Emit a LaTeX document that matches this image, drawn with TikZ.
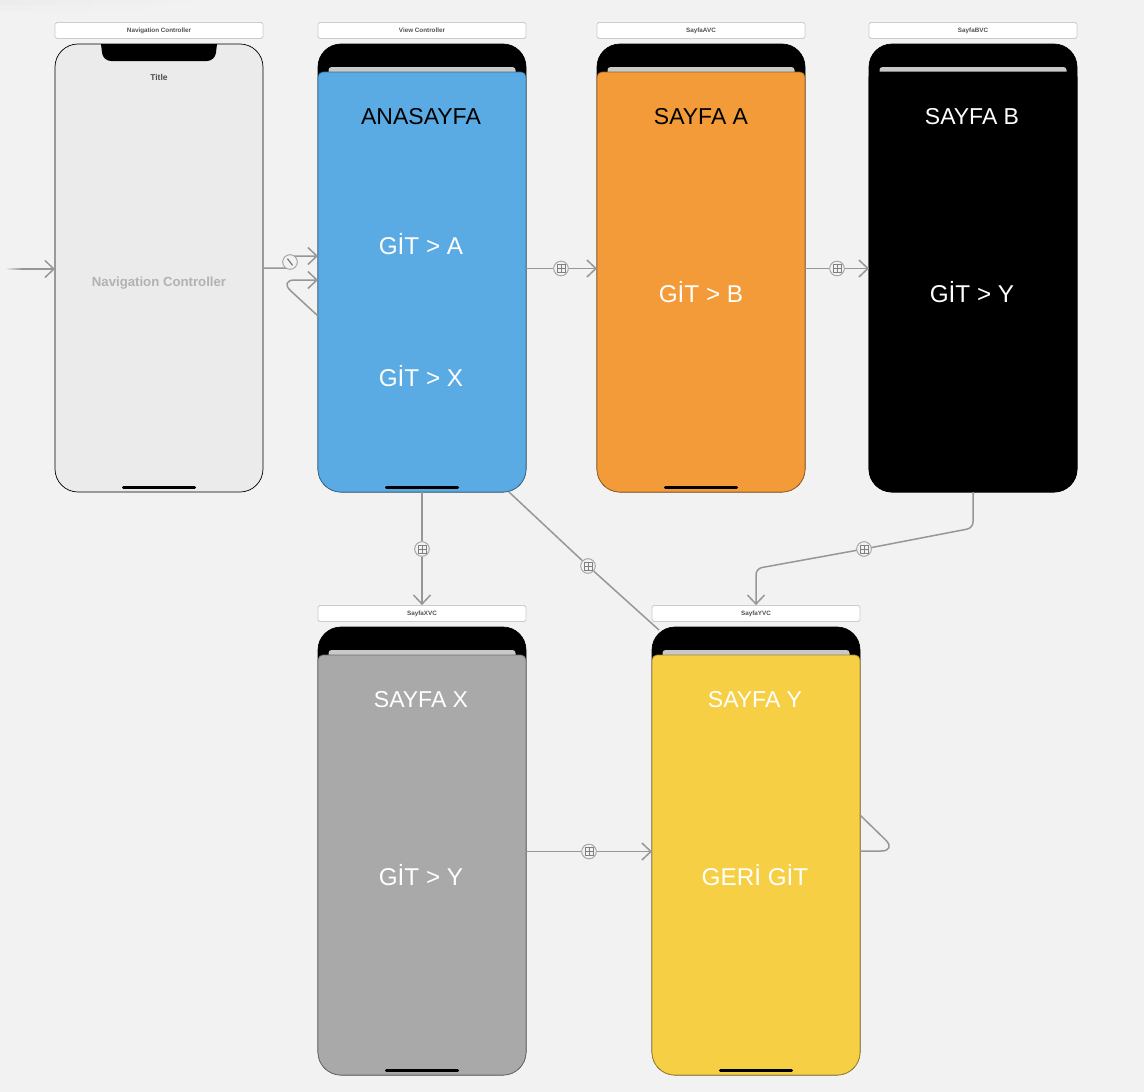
\documentclass[tikz,border=0pt]{standalone}
\usepackage{fontspec}
\setmainfont{Liberation Sans}
\usetikzlibrary{arrows.meta,calc,fadings}
\definecolor{canvas}{HTML}{F2F2F2}
\definecolor{linegray}{HTML}{979797}
\definecolor{badgegray}{HTML}{A6A6A6}
\definecolor{navfill}{HTML}{EBEBEB}
\definecolor{blueS}{HTML}{5AABE3}
\definecolor{orangeS}{HTML}{F39B38}
\definecolor{grayS}{HTML}{A9A9A9}
\definecolor{yellowS}{HTML}{F7CF45}
\tikzset{
  phonebody/.style={rectangle,draw=black,line width=0.7pt,rounded corners=23pt,minimum width=208pt,minimum height=448pt,inner sep=0pt,outer sep=0pt},
  header/.style={rectangle,draw=black!20,fill=white,line width=0.8pt,rounded corners=1.8pt,minimum width=208pt,minimum height=16pt,inner sep=0pt,font=\fontsize{6.3}{7}\selectfont\bfseries,text=black!68},
  titletext/.style={font=\fontsize{23}{28}\selectfont,inner sep=0pt},
  bigtext/.style={font=\fontsize{24.3}{28}\selectfont,inner sep=0pt},
  conn/.style={draw=linegray,line width=1.5pt,rounded corners=6pt,line join=round},
  arrowed/.style={conn,-{Straight Barb[length=9pt,width=17pt,line width=1.5pt]}},
  badge/.style={circle,draw=badgegray,fill=canvas,line width=0.8pt,minimum size=14.5pt,inner sep=0pt,
    path picture={
      \draw[draw=black!50,line width=0.55pt] ($(path picture bounding box.center)+(-4,-4)$) rectangle ($(path picture bounding box.center)+(4,4)$);
      \draw[draw=black!50,line width=0.55pt] ($(path picture bounding box.center)+(0,-4)$) -- ($(path picture bounding box.center)+(0,4)$) ($(path picture bounding box.center)+(-4,0)$) -- ($(path picture bounding box.center)+(4,0)$);
    }},
  linkbadge/.style={circle,draw=badgegray,fill=canvas,line width=0.8pt,minimum size=14.5pt,inner sep=0pt,
    path picture={
      \draw[draw=black!55,line width=1.1pt] ($(path picture bounding box.center)+(-2.6,-3.4)$) -- ($(path picture bounding box.center)+(2.6,3.4)$);
    }},
  homebar/.style={rectangle,fill=black,rounded corners=1.2pt,minimum width=74pt,minimum height=2.6pt,inner sep=0pt}
}
% name, center x, center y, screen colour
\newcommand{\phonescreen}[4]{%
  \node[phonebody,fill=black] (#1) at (#2,#3) {};
  \fill[black!21,rounded corners=3pt] ($(#1.north west)+(10.5,32)$) -- ($(#1.north west)+(10.5,23)$) -- ($(#1.north east)+(-10.5,23)$) -- ($(#1.north east)+(-10.5,32)$) -- cycle;
  \filldraw[fill=#4,draw=#4!65!black,line width=0.7pt] (#1.west) [rounded corners=5pt] -- ($(#1.north west)+(0,28)$) -- ($(#1.north east)+(0,28)$) -- (#1.east) [rounded corners=23pt] -- (#1.south east) -- (#1.south west) -- (#1.west) [sharp corners] -- cycle;
  \node[homebar] (#1home) at ($(#1.south)+(0,-4.5)$) {};
}
\begin{document}
\begin{tikzpicture}[x=1pt,y=-1pt]
\useasboundingbox[fill=canvas] (0,0) rectangle (1144,1092);
\fill[black,opacity=0.025,path fading=east] (0,0) rectangle (215,5);
\fill[black,opacity=0.012,path fading=east] (0,5) rectangle (180,11);

% headers
\node[header] (hnav) at (159,30.5) {Navigation Controller};
\node[header] (hvc) at (422,30.5) {View Controller};
\node[header] (ha) at (701,30.5) {SayfaAVC};
\node[header] (hb) at (973,30.5) {SayfaBVC};
\node[header] (hx) at (422,613.5) {SayfaXVC};
\node[header] (hy) at (756,613.5) {SayfaYVC};

% navigation controller
\node[phonebody,fill=navfill] (nav) at (159,268) {};
\fill[black] (101,44) [rounded corners=8pt] -- (103,61) -- (215,61) [sharp corners] -- (217,44) -- cycle;
\node[homebar] (navhome) at ($(nav.south)+(0,-4.5)$) {};
\node[font=\fontsize{8.5}{10}\selectfont\bfseries,text=black!70,inner sep=0pt] (navtitle) at (159,77) {Title};
\node[font=\fontsize{13.2}{16}\selectfont\bfseries,text=black!30,inner sep=0pt] (navlabel) at (159,283) {Navigation Controller};

% screens
\phonescreen{vc}{422}{268}{blueS}
\phonescreen{a}{701}{268}{orangeS}
\phonescreen{b}{973}{268}{black}
\phonescreen{x}{422}{851}{grayS}
\phonescreen{y}{756}{851}{yellowS}

% texts
\node[titletext,text=black] (t1) at (421,116.5) {ANASAYFA};
\node[bigtext,text=white] (t2) at (421,244.5) {GİT > A};
\node[bigtext,text=white] (t3) at (421,376) {GİT > X};
\node[titletext,text=black] (t4) at (701,116.5) {SAYFA A};
\node[bigtext,text=white] (t5) at (701,292.5) {GİT > B};
\node[titletext,text=white] (t6) at (972,116.5) {SAYFA B};
\node[bigtext,text=white] (t7) at (972,292.5) {GİT > Y};
\node[titletext,text=white] (t8) at (421,699.5) {SAYFA X};
\node[bigtext,text=white] (t9) at (421,875.5) {GİT > Y};
\node[titletext,text=white] (t10) at (755,699.5) {SAYFA Y};
\node[bigtext,text=white] (t11) at (755,875.5) {GERİ GİT};

% entry arrow
\coordinate (entry) at (22,269);
\shade[left color=canvas,right color=linegray] (5,268.3) rectangle (22,269.7);
\draw[arrowed] (entry) -- ($(nav.west)+(0,1)$);

% badges
\node[linkbadge] (bnav) at (290,262) {};
\node[badge] (bva) at (561,268.5) {};
\node[badge] (bab) at (837,268.5) {};
\node[badge] (bvx) at (422,549) {};
\node[badge] (bvy) at (588,566) {};
\node[badge] (bby) at (864,549) {};
\node[badge] (bxy) at (589,851.5) {};

% connectors
\draw[conn,sharp corners] (nav.east) -- ($(nav.east)+(23,0)$) -- (bnav.center);
\draw[arrowed,sharp corners] (bnav.center) -- ($(bnav.center)+(4,-6)$) -- ($(vc.west)+(0,-12)$);
\draw[arrowed,rounded corners=16pt] ($(vc.west)+(0,48)$) -- ($(vc.west)+(-39,12)$) -- ($(vc.west)+(0,12)$);
\draw[arrowed] ($(vc.east)+(0,0.5)$) -- (bva) -- ($(a.west)+(0,0.5)$);
\draw[arrowed] ($(a.east)+(0,0.5)$) -- (bab) -- ($(b.west)+(0,0.5)$);
\draw[arrowed] (vc.south) -- (bvx) -- (hx.north);
\draw[conn] ($(vc.south)+(87,0)$) -- (bvy) -- ($(y.north west)+(7,3)$);
\draw[arrowed] (b.south) -- ($(b.south)+(0,36)$) -- (bby.center) -- ($(hy.north)+(0,-36.5)$) -- (hy.north);
\draw[arrowed] ($(x.east)+(0,0.5)$) -- (bxy) -- ($(y.west)+(0,0.5)$);
\draw[conn,rounded corners=16pt] ($(y.east)+(0,-36)$) -- ($(y.east)+(37,0)$) -- (y.east);

% badges repainted on top
\node[linkbadge] at (bnav) {};
\node[badge] at (bva) {};
\node[badge] at (bab) {};
\node[badge] at (bvx) {};
\node[badge] at (bvy) {};
\node[badge] at (bby) {};
\node[badge] at (bxy) {};
\end{tikzpicture}
\end{document}
